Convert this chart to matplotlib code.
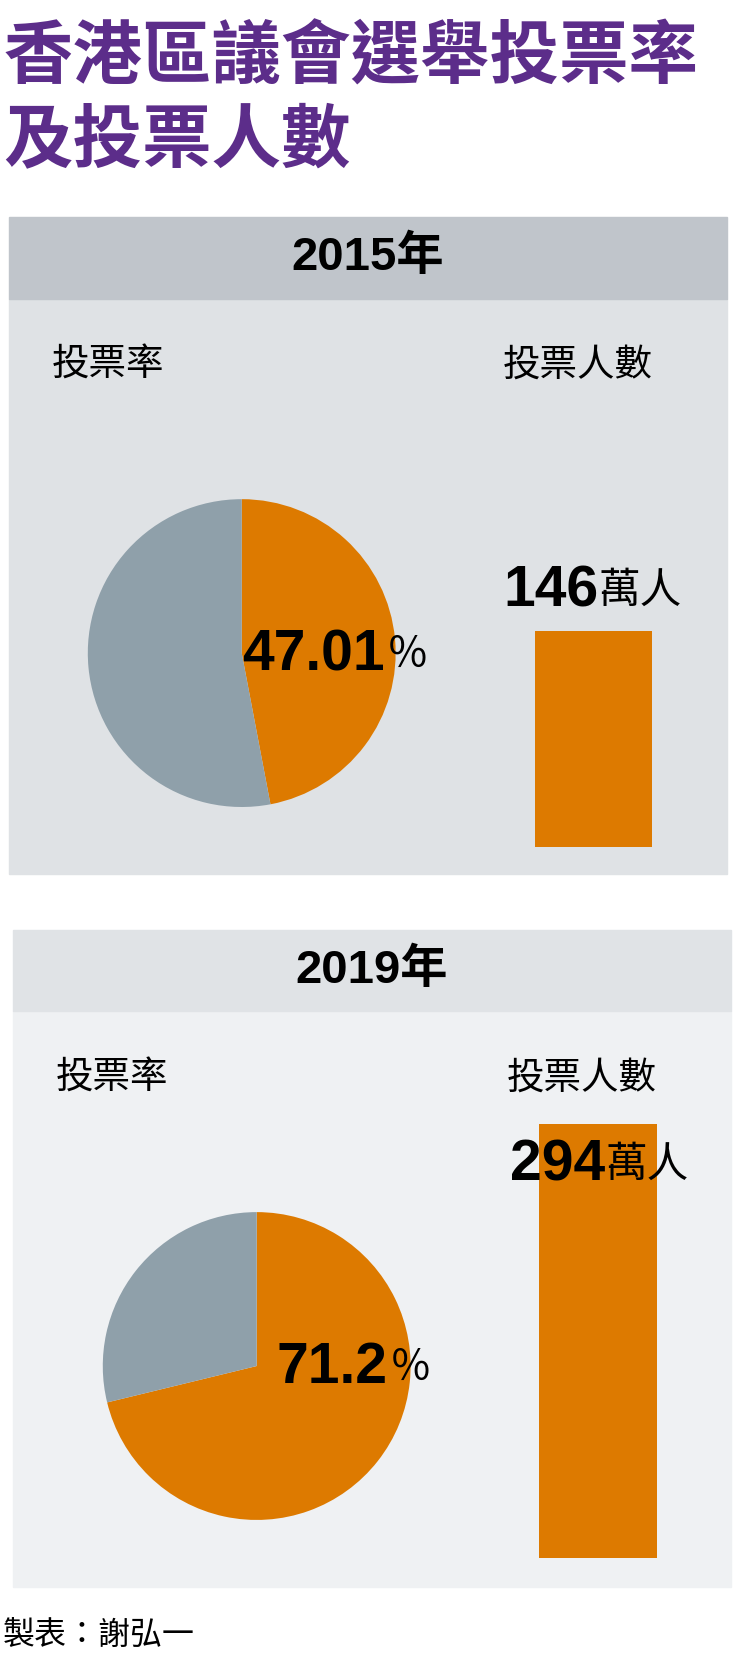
import matplotlib
matplotlib.use("Agg")
import matplotlib.pyplot as plt
from matplotlib.patches import Rectangle

years = ["2015年", "2019年"]
turnout = [47.01, 71.2]
voters = [146, 294]
turnout_labels = ["47.01", "71.2"]
voter_labels = ["146", "294"]

W, H = 690.0, 1568.0
fig = plt.figure(figsize=(7.38, 16.76), dpi=100)
CJK = ["Noto Sans CJK TC", "DejaVu Sans"]
NUM = ["Liberation Sans", "DejaVu Sans"]
ORANGE = "#dd7a00"; GRAY = "#8fa0aa"; PURPLE = "#5c2d8a"

def fx(x): return x / W
def fy(y): return 1 - y / H

def txt(x, y, s, **kw):
    fig.text(fx(x), fy(y), s, **kw)

txt(3, 55, "香港區議會選舉投票率", family=CJK, fontsize=50, fontweight="black", color=PURPLE, va="center")
txt(3, 132, "及投票人數", family=CJK, fontsize=50, fontweight="black", color=PURPLE, va="center")

panels = [
    dict(x0=8, x1=680, top=203, hb=280, bot=818, hc="#c0c5cb", bc="#dfe2e5", cx=226, cy=611, barx=500, barbot=792),
    dict(x0=12, x1=683, top=870, hb=946, bot=1485, hc="#e0e3e6", bc="#eff1f3", cx=240, cy=1278, barx=504, barbot=1458),
]
r = 180
px_per_unit = 202 / 146.0
for i, p in enumerate(panels):
    fig.patches.append(Rectangle((fx(p["x0"]), fy(p["bot"])), fx(p["x1"]) - fx(p["x0"]), fy(p["hb"]) - fy(p["bot"]),
                                 transform=fig.transFigure, color=p["bc"], zorder=-2))
    fig.patches.append(Rectangle((fx(p["x0"]), fy(p["hb"])), fx(p["x1"]) - fx(p["x0"]), fy(p["top"]) - fy(p["hb"]),
                                 transform=fig.transFigure, color=p["hc"], zorder=-2))
    mid = (p["x0"] + p["x1"]) / 2
    txt(mid, (p["top"] + p["hb"]) / 2, years[i], family=NUM + ["Noto Sans CJK TC"], fontsize=34, fontweight="bold",
        ha="center", va="center")
    ly = p["top"] + 139
    txt(p["x0"] + 40, ly, "投票率", family=CJK, fontsize=27, ha="left", va="center")
    txt(p["x0"] + 462, ly, "投票人數", family=CJK, fontsize=27, ha="left", va="center")
    ax = fig.add_axes([fx(p["cx"] - r), fy(p["cy"] + r), fx(2 * r), (2 * r) / H])
    ax.set_zorder(1)
    ax.pie([turnout[i], 100 - turnout[i]], colors=[ORANGE, GRAY], startangle=90, counterclock=False)
    ax.set_aspect("equal"); ax.axis("off")
    hpx = voters[i] * px_per_unit
    bx = fig.add_axes([fx(p["barx"]), fy(p["barbot"]), fx(110), hpx / H])
    bx.set_zorder(1)
    bx.bar([0], [voters[i]], width=1, color=ORANGE)
    bx.set_xlim(-0.5, 0.5); bx.set_ylim(0, voters[i]); bx.axis("off")
    tx = p["cx"] + (134 if i == 0 else 122)
    txt(tx, p["cy"] + 2, turnout_labels[i], family=NUM, fontsize=41, fontweight="bold", ha="right", va="center", zorder=5)
    txt(tx + 2, p["cy"] + 2, "％", family=CJK, fontsize=30, fontweight="light", ha="left", va="center", zorder=5)
    vy = 553 if i == 0 else 1090
    vx = 560 if i == 0 else 566
    txt(vx, vy, voter_labels[i], family=NUM, fontsize=41, fontweight="bold", ha="right", va="center", zorder=5)
    txt(vx, vy, "萬人", family=CJK, fontsize=30, fontweight="light", ha="left", va="center", zorder=5)

txt(3, 1530, "製表：謝弘一", family=CJK, fontsize=23, fontweight="light", ha="left", va="center")
fig.savefig("out.png", dpi=100)
